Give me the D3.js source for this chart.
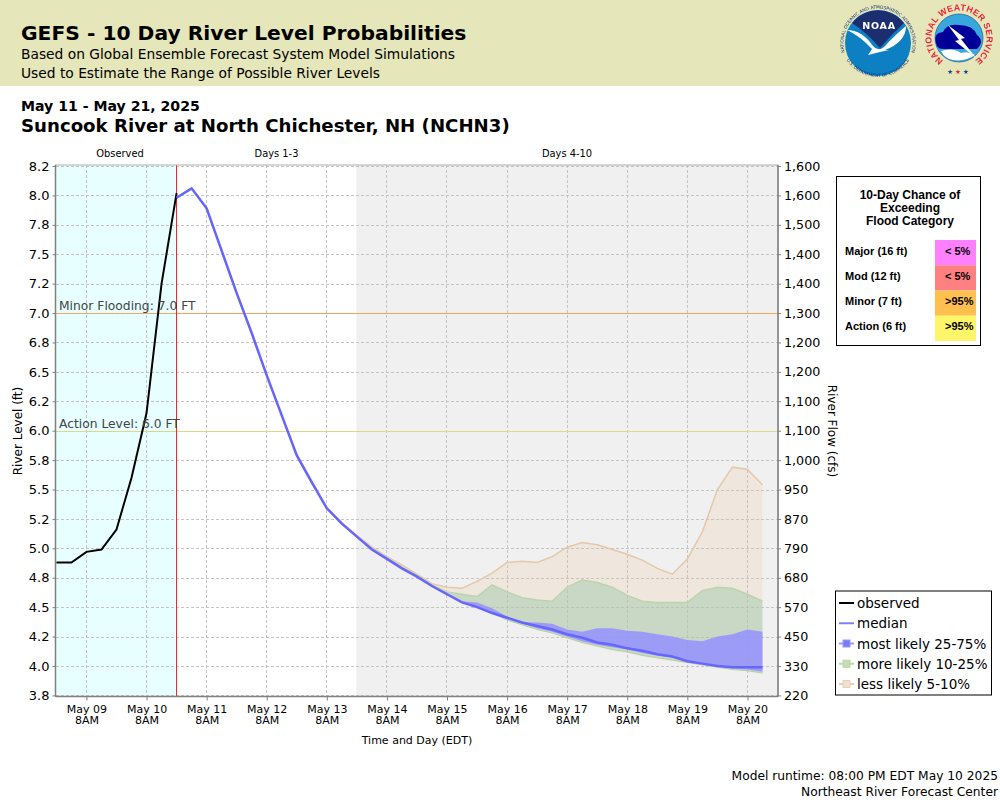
<!DOCTYPE html>
<html>
<head>
<meta charset="utf-8">
<script src="https://cdn.jsdelivr.net/npm/d3@7"></script>
<style>
html, body { margin: 0; padding: 0; background: #fff; }
svg { display: block; }
text { font-family: "DejaVu Sans", sans-serif; fill: #000; }
.tbl text { font-family: "Liberation Sans", Arial, sans-serif; font-weight: bold; }
</style>
</head>
<body>
<svg width="1000" height="800"></svg>
<script>
// River level values in feet. Times are EDT, kept as UTC to avoid DST trouble.
let obsValues = [4.88, 4.88, 4.97, 4.99, 5.16, 5.60, 6.15, 7.25, 8.02];
let medianValues = [7.98, 8.06, 7.89, 7.53, 7.17, 6.83, 6.47, 6.13, 5.79, 5.56, 5.34, 5.21, 5.10, 4.99, 4.91, 4.83, 4.76, 4.68, 4.61, 4.54, 4.50, 4.45, 4.41, 4.37, 4.34, 4.31, 4.27, 4.24, 4.20, 4.18, 4.15, 4.13, 4.10, 4.08, 4.04, 4.02, 4.00, 3.99, 3.99, 3.99];
let p95Values = [7.98, 8.06, 7.89, 7.53, 7.17, 6.83, 6.47, 6.13, 5.80, 5.57, 5.35, 5.22, 5.11, 5.01, 4.93, 4.86, 4.78, 4.70, 4.67, 4.66, 4.72, 4.79, 4.88, 4.89, 4.88, 4.93, 5.01, 5.05, 5.03, 4.99, 4.95, 4.90, 4.83, 4.78, 4.91, 5.14, 5.50, 5.69, 5.67, 5.54];
let p90Values = [7.98, 8.06, 7.89, 7.53, 7.17, 6.83, 6.47, 6.13, 5.79, 5.56, 5.34, 5.21, 5.10, 5.00, 4.92, 4.84, 4.77, 4.69, 4.63, 4.61, 4.59, 4.69, 4.63, 4.58, 4.56, 4.55, 4.67, 4.73, 4.71, 4.67, 4.60, 4.55, 4.54, 4.54, 4.54, 4.64, 4.67, 4.66, 4.61, 4.55];
let p75Values = [7.98, 8.06, 7.89, 7.53, 7.17, 6.83, 6.47, 6.13, 5.79, 5.56, 5.34, 5.21, 5.10, 4.99, 4.91, 4.83, 4.76, 4.68, 4.62, 4.55, 4.54, 4.49, 4.42, 4.37, 4.37, 4.36, 4.31, 4.29, 4.32, 4.32, 4.30, 4.29, 4.27, 4.25, 4.22, 4.21, 4.25, 4.27, 4.31, 4.29];
let p25Values = [7.98, 8.06, 7.89, 7.53, 7.17, 6.83, 6.47, 6.13, 5.79, 5.56, 5.34, 5.21, 5.10, 4.99, 4.91, 4.83, 4.76, 4.68, 4.61, 4.54, 4.50, 4.45, 4.40, 4.36, 4.32, 4.29, 4.25, 4.21, 4.18, 4.16, 4.14, 4.11, 4.09, 4.07, 4.04, 4.02, 4.00, 3.98, 3.97, 3.95];
let p10Values = [7.98, 8.06, 7.89, 7.53, 7.17, 6.83, 6.47, 6.13, 5.79, 5.56, 5.34, 5.21, 5.10, 4.99, 4.91, 4.83, 4.76, 4.68, 4.61, 4.54, 4.50, 4.45, 4.39, 4.35, 4.31, 4.28, 4.24, 4.20, 4.17, 4.14, 4.12, 4.09, 4.07, 4.05, 4.03, 4.01, 3.99, 3.97, 3.96, 3.94];
let p5Values = [7.98, 8.06, 7.89, 7.53, 7.17, 6.83, 6.47, 6.13, 5.79, 5.56, 5.34, 5.21, 5.10, 4.99, 4.91, 4.83, 4.76, 4.68, 4.61, 4.54, 4.50, 4.45, 4.39, 4.35, 4.31, 4.28, 4.23, 4.19, 4.16, 4.13, 4.11, 4.08, 4.06, 4.04, 4.02, 4.00, 3.98, 3.97, 3.95, 3.94];

let levelTicks = [8.25, 8, 7.75, 7.5, 7.25, 7, 6.75, 6.5, 6.25, 6, 5.75, 5.5, 5.25, 5, 4.75, 4.5, 4.25, 4, 3.75];
let levelLabels = ["8.2", "8.0", "7.8", "7.5", "7.2", "7.0", "6.8", "6.5", "6.2", "6.0", "5.8", "5.5", "5.2", "5.0", "4.8", "4.5", "4.2", "4.0", "3.8"];
let flowLabels = ["1,600", "1,600", "1,500", "1,400", "1,400", "1,300", "1,200", "1,200", "1,100", "1,100", "1,000", "950", "870", "790", "680", "570", "450", "330", "220"];
let dayLabels = ["May 09", "May 10", "May 11", "May 12", "May 13", "May 14", "May 15", "May 16", "May 17", "May 18", "May 19", "May 20"];

let floodNames = ["Major (16 ft)", "Mod (12 ft)", "Minor (7 ft)", "Action (6 ft)"];
let floodChances = ["< 5%", "< 5%", ">95%", ">95%"];
let floodColors = ["#ff80ff", "#ff8080", "#ffc050", "#fff568"];

let legendNames = ["observed", "median", "most likely 25-75%", "more likely 10-25%", "less likely 5-10%"];

let vWidth = 1000;
let svg = d3.select('svg');
let t0 = Date.UTC(2025, 4, 8, 20);
let fcstStart = Date.UTC(2025, 4, 10, 20);
let days4Start = Date.UTC(2025, 4, 13, 20);
let tEnd = Date.UTC(2025, 4, 20, 20);
let tickDates = dayLabels.map((d, i) => new Date(Date.UTC(2025, 4, 9 + i, 8)));

let x = d3.scaleUtc().domain([t0, tEnd]).range([56.4, 777.5]);
let y = d3.scaleLinear().domain([3.75, 8.25]).range([695.4, 166]);
let pLeft = 55.5, pRight = 778, pTop = 165, pBottom = 696.5;

let obsTime = (i) => x(d3.utcHour.offset(new Date(t0), 6 * i));
let fcTime = (i) => x(d3.utcHour.offset(new Date(fcstStart), 6 * i));

// header
svg.append('rect').attr('width', vWidth).attr('height', 86).attr('fill', '#e5e6b9');
let heads = [
  ["GEFS - 10 Day River Level Probabilities", 21, 40, 20.25, 'bold'],
  ["Based on Global Ensemble Forecast System Model Simulations", 21, 59, 13.8, 'normal'],
  ["Used to Estimate the Range of Possible River Levels", 21, 78, 13.8, 'normal'],
  ["May 11 - May 21, 2025", 21, 111, 14.1, 'bold'],
  ["Suncook River at North Chichester, NH (NCHN3)", 21, 132, 18.15, 'bold']
];
svg.selectAll('.head').data(heads).enter().append('text').attr('class', 'head')
  .attr('x', d => d[1]).attr('y', d => d[2])
  .style('font-size', d => d[3] + 'px').style('font-weight', d => d[4])
  .text(d => d[0]);

// plot background
let bg = [[pLeft, x(fcstStart), '#e8ffff'], [x(fcstStart), x(days4Start), '#ffffff'], [x(days4Start) - 0.5, pRight, '#f0f0f0']];
svg.selectAll('.bg').data(bg).enter().append('rect').attr('class', 'bg')
  .attr('x', d => d[0]).attr('width', d => d[1] - d[0])
  .attr('y', pTop).attr('height', pBottom - pTop).attr('fill', d => d[2]);

let tops = [["Observed", 120], ["Days 1-3", 276.5], ["Days 4-10", 567]];
svg.selectAll('.top').data(tops).enter().append('text').attr('class', 'top')
  .attr('x', d => d[1]).attr('y', 157).attr('text-anchor', 'middle')
  .style('font-size', '9.9px').text(d => d[0]);

// grid
let gridG = svg.append('g').attr('stroke', '#c4c4c4').attr('stroke-dasharray', '3,2').attr('shape-rendering', 'crispEdges');
gridG.selectAll('.h').data(levelTicks).enter().append('line')
  .attr('x1', pLeft).attr('x2', pRight).attr('y1', d => Math.round(y(d)) + 0.5).attr('y2', d => Math.round(y(d)) + 0.5);
gridG.selectAll('.v').data(tickDates).enter().append('line')
  .attr('y1', pTop).attr('y2', pBottom).attr('x1', d => Math.floor(x(d)) + 0.5).attr('x2', d => Math.floor(x(d)) + 0.5);

// flood lines
svg.append('line').attr('x1', pLeft).attr('x2', pRight).attr('y1', Math.round(y(7)) + 0.5).attr('y2', Math.round(y(7)) + 0.5)
  .attr('stroke', '#f0a860').attr('shape-rendering', 'crispEdges');
svg.append('line').attr('x1', pLeft).attr('x2', pRight).attr('y1', Math.round(y(6)) + 0.5).attr('y2', Math.round(y(6)) + 0.5)
  .attr('stroke', '#dcd88c').attr('shape-rendering', 'crispEdges');

// probability bands
let vArea = (lo, hi) => d3.area()
  .x((d, i) => fcTime(i))
  .y0((d, i) => y(lo[i]))
  .y1((d, i) => y(hi[i]))(lo);
let vLine = (vals, fx) => d3.line().x((d, i) => fx(i)).y(d => y(d))(vals);

svg.append('path').attr('d', vArea(p5Values, p95Values)).attr('fill', '#f0bc88').attr('fill-opacity', 0.17);
svg.append('path').attr('d', vLine(p95Values, fcTime)).attr('fill', 'none').attr('stroke', '#e4c8a8').attr('stroke-width', 1.5);
svg.append('path').attr('d', vArea(p10Values, p90Values)).attr('fill', '#a3caa9').attr('fill-opacity', 0.5);
svg.append('path').attr('d', vLine(p90Values, fcTime)).attr('fill', 'none').attr('stroke', '#bcd4ac').attr('stroke-width', 1.5);
svg.append('path').attr('d', vLine(p10Values, fcTime)).attr('fill', 'none').attr('stroke', '#b4cfa4').attr('stroke-width', 1);
svg.append('path').attr('d', vArea(p25Values, p75Values)).attr('fill', '#9491ff').attr('fill-opacity', 0.85);

// forecast start
let redX = Math.floor(x(fcstStart)) + 0.5;
svg.append('line').attr('x1', redX).attr('x2', redX).attr('y1', pTop).attr('y2', pBottom)
  .attr('stroke', '#ff2020').attr('shape-rendering', 'crispEdges');

svg.append('path').attr('d', vLine(obsValues, obsTime)).attr('fill', 'none').attr('stroke', '#000').attr('stroke-width', 2);
svg.append('path').attr('d', vLine(medianValues, fcTime)).attr('fill', 'none').attr('stroke', '#6666ff').attr('stroke-width', 2.5);

// flood labels
svg.append('text').attr('x', 59).attr('y', y(7) - 3).style('font-size', '12.3px').style('fill', '#444').text('Minor Flooding: 7.0 FT');
svg.append('text').attr('x', 59).attr('y', y(6) - 3).style('font-size', '12.3px').style('fill', '#444').text('Action Level: 6.0 FT');

// frame and axes
svg.append('rect').attr('x', pLeft).attr('y', pTop).attr('width', pRight - pLeft).attr('height', pBottom - pTop)
  .attr('fill', 'none').attr('stroke', '#b0b0b0');

function styleAxis(g) {
  g.selectAll('path').attr('stroke', '#808080').attr('stroke-width', 1.5);
  g.selectAll('line').attr('stroke', '#808080');
}

let leftAxis = d3.axisLeft(y).tickValues(levelTicks).tickSize(3).tickSizeOuter(0).tickFormat((d, i) => levelLabels[i]);
let gLeft = svg.append('g').attr('transform', `translate(${pLeft},0)`).call(leftAxis).call(styleAxis);
gLeft.select('path').attr('d', `M0,${pTop}V${pBottom}`);
gLeft.selectAll('text').attr('x', -6).style('font-size', '13px').style('font-family', '"DejaVu Sans"');

let rightAxis = d3.axisRight(y).tickValues(levelTicks).tickSize(3).tickSizeOuter(0).tickFormat((d, i) => flowLabels[i]);
let gRight = svg.append('g').attr('transform', `translate(${pRight},0)`).call(rightAxis).call(styleAxis);
gRight.select('path').attr('d', `M0,${pTop}V${pBottom}`);
gRight.selectAll('text').attr('x', 6).style('font-size', '12.7px').style('font-family', '"DejaVu Sans"');

let bottomAxis = d3.axisBottom(x).tickValues(tickDates).tickSize(4).tickSizeOuter(0).tickFormat((d, i) => dayLabels[i]);
let gBottom = svg.append('g').attr('transform', `translate(0,${pBottom})`).call(bottomAxis).call(styleAxis);
gBottom.select('path').attr('d', `M${pLeft},0H${pRight}`);
gBottom.selectAll('text').attr('y', 8.5).style('font-size', '11px').style('font-family', '"DejaVu Sans"');
gBottom.selectAll('.tick').append('text').attr('y', 27.5).attr('fill', '#000')
  .attr('text-anchor', 'middle').style('font-size', '11px').style('font-family', '"DejaVu Sans"').text('8AM');

svg.append('text').attr('x', 417).attr('y', 744).attr('text-anchor', 'middle').style('font-size', '11px').text('Time and Day (EDT)');
svg.append('text').attr('transform', 'translate(22,431) rotate(-90)').attr('text-anchor', 'middle').style('font-size', '12px').text('River Level (ft)');
svg.append('text').attr('transform', 'translate(828,431) rotate(90)').attr('text-anchor', 'middle').style('font-size', '12px').text('River Flow (cfs)');

// flood category table
let tbl = svg.append('g').attr('class', 'tbl');
tbl.append('rect').attr('x', 836.5).attr('y', 176.5).attr('width', 144).attr('height', 169).attr('fill', '#fff').attr('stroke', '#000');
tbl.selectAll('.ttl').data(["10-Day Chance of", "Exceeding", "Flood Category"]).enter().append('text').attr('class', 'ttl')
  .attr('x', 910).attr('y', (d, i) => 199 + i * 13).attr('text-anchor', 'middle').style('font-size', '12px').text(d => d);
let rowY = d3.scaleBand().domain(floodNames).range([240, 341]);
tbl.selectAll('.cell').data(floodNames).enter().append('rect').attr('class', 'cell')
  .attr('x', 935).attr('width', 41).attr('y', d => rowY(d)).attr('height', rowY.bandwidth()).attr('fill', (d, i) => floodColors[i]);
tbl.selectAll('.nm').data(floodNames).enter().append('text').attr('class', 'nm')
  .attr('x', 845).attr('y', d => rowY(d) + 14.6).style('font-size', '11px').text(d => d);
tbl.selectAll('.pc').data(floodChances).enter().append('text').attr('class', 'pc')
  .attr('x', 945).attr('y', (d, i) => rowY(floodNames[i]) + 14.6).style('font-size', '11px').text(d => d);

// legend
let lg = svg.append('g');
lg.append('rect').attr('x', 835.5).attr('y', 591).attr('width', 156).attr('height', 104).attr('fill', '#fff').attr('stroke', '#000');
let legendY = d3.scalePoint().domain(legendNames).range([603, 684]);
let legendLine = ['#000', '#8080ff', '#9898ff', '#b8d8a8', '#e8d0b8'];
let legendBox = [null, null, '#7c7cf0', '#c8dcb4', '#efe0d0'];
lg.selectAll('.ll').data(legendNames).enter().append('line').attr('class', 'll')
  .attr('x1', 839).attr('x2', 854).attr('y1', d => legendY(d)).attr('y2', d => legendY(d))
  .attr('stroke', (d, i) => legendLine[i]).attr('stroke-width', 2);
lg.selectAll('.lb').data(legendNames.slice(2)).enter().append('rect').attr('class', 'lb')
  .attr('x', 843).attr('width', 7).attr('y', d => legendY(d) - 3.5).attr('height', 7)
  .attr('fill', (d, i) => legendBox[i + 2]).attr('stroke', (d, i) => legendLine[i + 2]);
lg.selectAll('.lt').data(legendNames).enter().append('text').attr('class', 'lt')
  .attr('x', 857).attr('y', d => legendY(d) + 5).style('font-size', '13.5px').text(d => d);

// footer
svg.append('text').attr('x', 998).attr('y', 780).attr('text-anchor', 'end').style('font-size', '12.26px').text('Model runtime: 08:00 PM EDT May 10 2025');
svg.append('text').attr('x', 998).attr('y', 796).attr('text-anchor', 'end').style('font-size', '12.26px').text('Northeast River Forecast Center');

// logos, only roughly drawn
let defs = svg.append('defs');
defs.append('filter').attr('id', 'soft').append('feGaussianBlur').attr('stdDeviation', 0.35);
defs.append('path').attr('id', 'noaaTop').attr('d', 'M 846.7 57.6 A 34.5 34.5 0 1 1 909.3 57.6');
defs.append('path').attr('id', 'noaaBot').attr('d', 'M 842 50 A 37.5 37.5 0 0 0 914 50');
defs.append('path').attr('id', 'nwsRing').attr('d', 'M 947.4 62.9 A 27.5 27.5 0 1 1 970.6 62.9');

let noaa = svg.append('g').attr('filter', 'url(#soft)');
noaa.append('circle').attr('cx', 878).attr('cy', 43).attr('r', 33).attr('fill', '#0a80c4');
noaa.append('path').attr('d', 'M 852 23 A 33 33 0 0 1 904 23 Q 892 34 880 48 Q 866 32 852 23 Z').attr('fill', '#1d2f6f');
noaa.append('path').attr('d', 'M 847 30 Q 862 30 873 46 Q 878 52 884 47 Q 896 34 906 26 Q 906 42 885 50 L 889 50 L 880 52 L 868 55 L 872 49 Q 860 36 847 30 Z').attr('fill', '#fff');
noaa.append('text').attr('x', 879).attr('y', 29).attr('text-anchor', 'middle').attr('letter-spacing', 0.8).style('font-size', '9.5px').style('font-weight', 'bold').style('fill', '#fff').text('NOAA');
noaa.append('text').style('font-size', '4.4px').style('fill', '#1d2f6f').append('textPath').attr('href', '#noaaTop').attr('startOffset', '50%').attr('text-anchor', 'middle').text('NATIONAL OCEANIC AND ATMOSPHERIC ADMINISTRATION');
noaa.append('text').style('font-size', '4.4px').style('fill', '#1d2f6f').append('textPath').attr('href', '#noaaBot').attr('startOffset', '50%').attr('text-anchor', 'middle').text('U.S. DEPARTMENT OF COMMERCE');

let nws = svg.append('g').attr('filter', 'url(#soft)');
nws.append('circle').attr('cx', 959).attr('cy', 38).attr('r', 24).attr('fill', '#38a8dc').attr('stroke', '#1c3f94').attr('stroke-width', 0.6);
nws.append('path').attr('d', 'M 936 43 Q 933 33 943 32 Q 947 23 959 25 Q 973 25 977 35 Q 985 41 977 49 L 943 49 Q 937 49 936 43 Z').attr('fill', '#000099');
nws.append('path').attr('d', 'M 941 51 Q 953 47 961 53 Q 969 51 975 55 Q 965 62 953 60 Q 945 59 941 51 Z').attr('fill', '#fff');
nws.append('path').attr('d', 'M 948 25 L 965 38 L 961 39 L 976 58 L 955 41 L 959 40 Z').attr('fill', '#fff');
nws.append('text').style('font-family', '"Liberation Sans"').style('font-size', '8.8px').style('font-weight', 'bold').style('fill', '#e8283c').attr('letter-spacing', 0.3)
  .append('textPath').attr('href', '#nwsRing').attr('startOffset', '50%').attr('text-anchor', 'middle').text('NATIONAL WEATHER SERVICE');
let stars = nws.append('text').attr('x', 958).attr('y', 74).attr('text-anchor', 'middle').style('font-size', '6.5px');
stars.append('tspan').style('fill', '#1c3f94').text('★ ');
stars.append('tspan').style('fill', '#e8283c').text('★');
stars.append('tspan').style('fill', '#1c3f94').text(' ★');
</script>
</body>
</html>
